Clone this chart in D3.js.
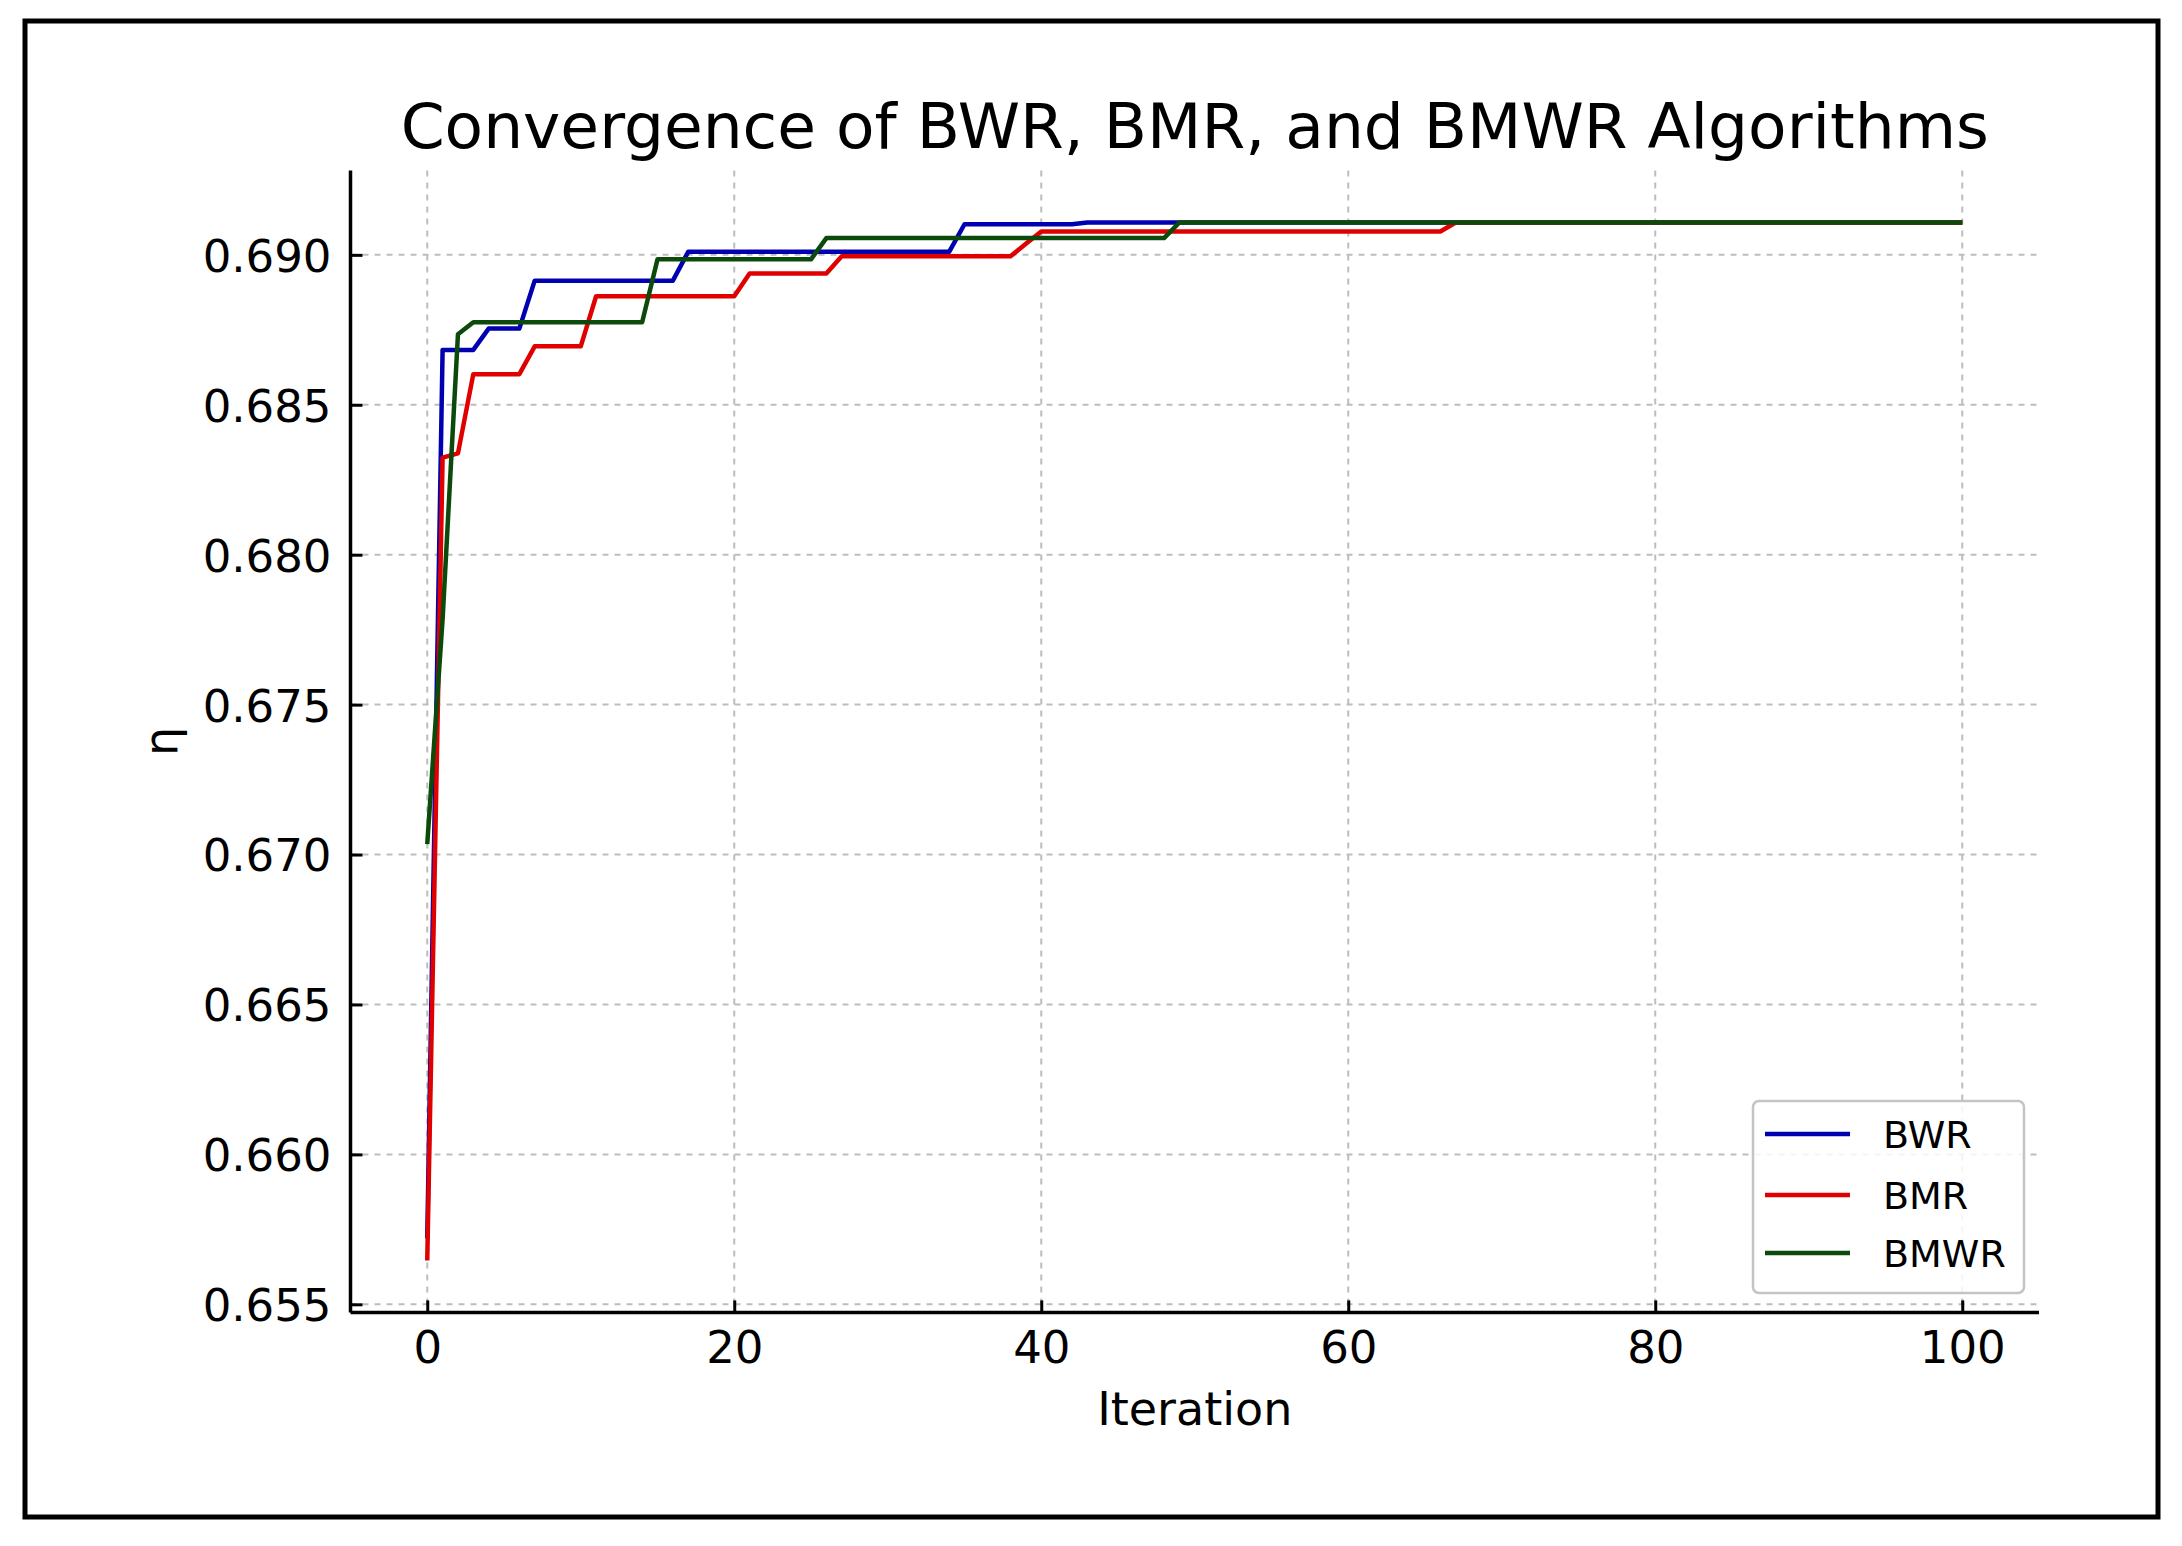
<!DOCTYPE html>
<html>
<head>
<meta charset="utf-8">
<script src="https://cdn.jsdelivr.net/npm/d3@7"></script>
<style>
  html, body { margin: 0; padding: 0; background: #ffffff; }
  svg { display: block; }
  text { font-family: "DejaVu Sans", sans-serif; fill: #000; }
</style>
</head>
<body>
<script>
// ---------------- data ----------------
const iterations = d3.range(0, 101);

const bwr = [
  0.6572, 0.68683, 0.68683, 0.68683, 0.68754, 0.68754, 0.68754, 0.68914, 0.68914, 0.68914,
  0.68914, 0.68914, 0.68914, 0.68914, 0.68914, 0.68914, 0.68914, 0.69010, 0.69010, 0.69010,
  0.69010, 0.69010, 0.69010, 0.69010, 0.69010, 0.69010, 0.69010, 0.69010, 0.69010, 0.69010,
  0.69010, 0.69010, 0.69010, 0.69010, 0.69010, 0.69102, 0.69102, 0.69102, 0.69102, 0.69102,
  0.69102, 0.69102, 0.69102, 0.69108, 0.69108, 0.69108, 0.69108, 0.69108, 0.69108, 0.69108,
  0.69108, 0.69108, 0.69108, 0.69108, 0.69108, 0.69108, 0.69108, 0.69108, 0.69108, 0.69108,
  0.69108, 0.69108, 0.69108, 0.69108, 0.69108, 0.69108, 0.69108, 0.69108, 0.69108, 0.69108,
  0.69108, 0.69108, 0.69108, 0.69108, 0.69108, 0.69108, 0.69108, 0.69108, 0.69108, 0.69108,
  0.69108, 0.69108, 0.69108, 0.69108, 0.69108, 0.69108, 0.69108, 0.69108, 0.69108, 0.69108,
  0.69108, 0.69108, 0.69108, 0.69108, 0.69108, 0.69108, 0.69108, 0.69108, 0.69108, 0.69108,
  0.69108
];

const bmr = [
  0.65646, 0.68324, 0.68338, 0.68602, 0.68602, 0.68602, 0.68602, 0.68695, 0.68695, 0.68695,
  0.68695, 0.68862, 0.68862, 0.68862, 0.68862, 0.68862, 0.68862, 0.68862, 0.68862, 0.68862,
  0.68862, 0.68938, 0.68938, 0.68938, 0.68938, 0.68938, 0.68938, 0.68995, 0.68995, 0.68995,
  0.68995, 0.68995, 0.68995, 0.68995, 0.68995, 0.68995, 0.68995, 0.68995, 0.68995, 0.69037,
  0.69078, 0.69078, 0.69078, 0.69078, 0.69078, 0.69078, 0.69078, 0.69078, 0.69078, 0.69078,
  0.69078, 0.69078, 0.69078, 0.69078, 0.69078, 0.69078, 0.69078, 0.69078, 0.69078, 0.69078,
  0.69078, 0.69078, 0.69078, 0.69078, 0.69078, 0.69078, 0.69078, 0.69108, 0.69108, 0.69108,
  0.69108, 0.69108, 0.69108, 0.69108, 0.69108, 0.69108, 0.69108, 0.69108, 0.69108, 0.69108,
  0.69108, 0.69108, 0.69108, 0.69108, 0.69108, 0.69108, 0.69108, 0.69108, 0.69108, 0.69108,
  0.69108, 0.69108, 0.69108, 0.69108, 0.69108, 0.69108, 0.69108, 0.69108, 0.69108, 0.69108,
  0.69108
];

const bmwr = [
  0.67035, 0.67785, 0.68735, 0.68775, 0.68775, 0.68775, 0.68775, 0.68775, 0.68775, 0.68775,
  0.68775, 0.68775, 0.68775, 0.68775, 0.68775, 0.68985, 0.68985, 0.68985, 0.68985, 0.68985,
  0.68985, 0.68985, 0.68985, 0.68985, 0.68985, 0.68985, 0.69056, 0.69056, 0.69056, 0.69056,
  0.69056, 0.69056, 0.69056, 0.69056, 0.69056, 0.69056, 0.69056, 0.69056, 0.69056, 0.69056,
  0.69056, 0.69056, 0.69056, 0.69056, 0.69056, 0.69056, 0.69056, 0.69056, 0.69056, 0.69108,
  0.69108, 0.69108, 0.69108, 0.69108, 0.69108, 0.69108, 0.69108, 0.69108, 0.69108, 0.69108,
  0.69108, 0.69108, 0.69108, 0.69108, 0.69108, 0.69108, 0.69108, 0.69108, 0.69108, 0.69108,
  0.69108, 0.69108, 0.69108, 0.69108, 0.69108, 0.69108, 0.69108, 0.69108, 0.69108, 0.69108,
  0.69108, 0.69108, 0.69108, 0.69108, 0.69108, 0.69108, 0.69108, 0.69108, 0.69108, 0.69108,
  0.69108, 0.69108, 0.69108, 0.69108, 0.69108, 0.69108, 0.69108, 0.69108, 0.69108, 0.69108,
  0.69108
];

const seriesNames = ["BWR", "BMR", "BMWR"];
const seriesColors = ["#0000b0", "#e00000", "#0c4a0c"];
const xTicks = [0, 20, 40, 60, 80, 100];
const yTicks = [0.655, 0.660, 0.665, 0.670, 0.675, 0.680, 0.685, 0.690];
const titleText = "Convergence of BWR, BMR, and BMWR Algorithms";
const xLabel = "Iteration";
const yLabel = "η";

// ---------------- layout ----------------
const W = 2182, H = 1546;
const plot = { left: 350.5, right: 2039, top: 170.6, bottom: 1312.4 };

const svg = d3.select("body").append("svg")
  .attr("width", W).attr("height", H);

svg.append("rect").attr("width", W).attr("height", H).attr("fill", "#fff");

// outer frame
svg.append("rect")
  .attr("x", 25).attr("y", 21).attr("width", 2133).attr("height", 1496)
  .attr("fill", "none").attr("stroke", "#000").attr("stroke-width", 5);

const x = d3.scaleLinear().domain([-5, 105]).range([plot.left, plot.right]);
const y = d3.scaleLinear().domain([0.65473, 0.69281]).range([plot.bottom, plot.top]);

// grid
const grid = svg.append("g");
grid.selectAll("line.vg").data(xTicks).join("line")
  .attr("x1", d => x(d)).attr("x2", d => x(d))
  .attr("y1", plot.top).attr("y2", plot.bottom)
  .attr("stroke", "#bdbdbd").attr("stroke-width", 2).attr("stroke-dasharray", "6,6");
grid.selectAll("line.hg").data(yTicks).join("line")
  .attr("x1", plot.left).attr("x2", plot.right)
  .attr("y1", d => y(d)).attr("y2", d => y(d))
  .attr("stroke", "#bdbdbd").attr("stroke-width", 2).attr("stroke-dasharray", "6,6");

// lines
const allSeries = [bwr, bmr, bmwr];
const line = d3.line().x((d, i) => x(iterations[i])).y(d => y(d));
allSeries.forEach((s, k) => {
  svg.append("path")
    .datum(s)
    .attr("fill", "none")
    .attr("stroke", seriesColors[k])
    .attr("stroke-width", 4.5)
    .attr("stroke-linejoin", "round")
    .attr("d", line);
});

// axes (ticks inward, only left & bottom spines)
const xAxis = d3.axisBottom(x).tickValues(xTicks).tickSize(-12).tickPadding(0).tickFormat(d3.format("d"));
const yAxis = d3.axisLeft(y).tickValues(yTicks).tickSize(-12).tickPadding(0).tickFormat(d3.format(".3f"));

const gx = svg.append("g").attr("transform", `translate(0,${plot.bottom})`).call(xAxis);
gx.select(".domain").attr("d", `M${plot.left},0H${plot.right}`).attr("stroke", "#000").attr("stroke-width", 3.5);
gx.selectAll(".tick line").attr("stroke", "#000").attr("stroke-width", 3);
gx.selectAll(".tick text")
  .attr("y", 51).attr("dy", null)
  .style("font-family", "DejaVu Sans").style("font-size", "45px").attr("fill", "#000");

const gy = svg.append("g").attr("transform", `translate(${plot.left},0)`).call(yAxis);
gy.select(".domain").attr("d", `M0,${plot.top}V${plot.bottom}`).attr("stroke", "#000").attr("stroke-width", 3.5);
gy.selectAll(".tick line").attr("stroke", "#000").attr("stroke-width", 3);
gy.selectAll(".tick text")
  .attr("x", -19).attr("dy", "16.4px")
  .style("font-family", "DejaVu Sans").style("font-size", "45px").attr("fill", "#000");

// title & labels
svg.append("text")
  .attr("x", (plot.left + plot.right) / 2).attr("y", 148)
  .attr("text-anchor", "middle").style("font-size", "63px")
  .text(titleText);

svg.append("text")
  .attr("x", (plot.left + plot.right) / 2).attr("y", 1425)
  .attr("text-anchor", "middle").style("font-size", "46px")
  .text(xLabel);

svg.append("text")
  .attr("transform", `translate(177,${(plot.top + plot.bottom) / 2}) rotate(-90)`)
  .attr("text-anchor", "middle").style("font-size", "46px")
  .text(yLabel);

// legend
const leg = svg.append("g");
leg.append("rect")
  .attr("x", 1753).attr("y", 1101).attr("width", 271).attr("height", 192)
  .attr("rx", 6).attr("ry", 6)
  .attr("fill", "#fff").attr("fill-opacity", 0.85)
  .attr("stroke", "#c4c4c4").attr("stroke-width", 2.5);
const legY = [1134, 1195, 1253];
seriesNames.forEach((name, k) => {
  leg.append("line")
    .attr("x1", 1765).attr("x2", 1850)
    .attr("y1", legY[k]).attr("y2", legY[k])
    .attr("stroke", seriesColors[k]).attr("stroke-width", 4.5);
  leg.append("text")
    .attr("x", 1883).attr("y", legY[k] + 14)
    .style("font-size", "38px")
    .text(name);
});
</script>
</body>
</html>
